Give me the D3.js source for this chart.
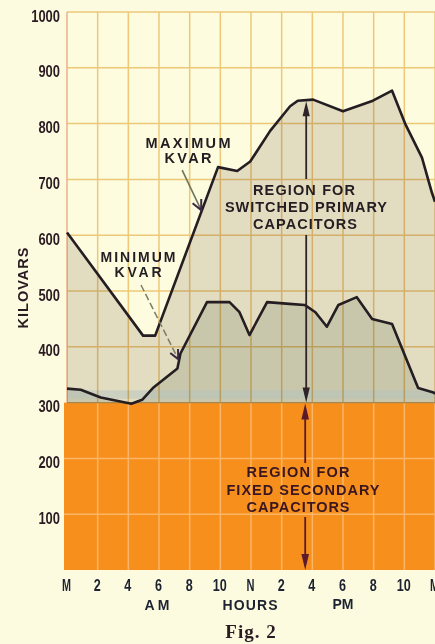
<!DOCTYPE html>
<html>
<head>
<meta charset="utf-8">
<script src="https://cdn.jsdelivr.net/npm/d3@7"></script>
<style>
  html, body { margin: 0; padding: 0; background: #fcfbe0; }
  svg { display: block; }
</style>
</head>
<body>
<svg id="chart" width="435" height="644"></svg>
<script>
// Hour ticks across one day (midnight to midnight)
const hourTicks = [0, 2, 4, 6, 8, 10, 12, 14, 16, 18, 20, 22, 24];
const hourLabels = ["M", "2", "4", "6", "8", "10", "N", "2", "4", "6", "8", "10", "M"];
const kvarTicks = [100, 200, 300, 400, 500, 600, 700, 800, 900, 1000];

// Level covered by fixed secondary capacitors
const fixedLevel = 300;

// Maximum daily reactive demand (kilovars) by hour
const maxHours = [0, 4.96, 5.75, 9.85, 11.1, 11.95, 13.25, 14.55, 15.05, 16.05, 18.0, 19.95, 21.2, 22.05, 23.15, 23.8, 24];
const maxKvar  = [605, 420, 420, 722, 715, 732, 787, 831, 841, 843, 822, 841, 859, 800, 739, 676, 660];

// Minimum daily reactive demand (kilovars) by hour
const minHours = [0, 0.9, 2.2, 4.2, 4.9, 5.6, 7.2, 7.4, 9.13, 10.6, 11.25, 11.9, 13.05, 14.5, 15.5, 16.2, 16.95, 17.7, 18.9, 19.9, 21.2, 22.9, 23.9, 24];
const minKvar  = [325, 323, 309, 298, 305, 326, 361, 388, 480, 480, 462, 421, 480, 477, 475, 462, 436, 475, 489, 450, 441, 326, 318, 316];

const svg = d3.select("#chart");
const x = d3.scaleLinear().domain([0, 24]).range([67, 435]);
const y = d3.scaleLinear().domain([0, 1000]).range([570, 12]);

const maxPts = maxHours.map((h, i) => ({ h, v: maxKvar[i] }));
const minPts = minHours.map((h, i) => ({ h, v: minKvar[i] }));

const ink = "#241d22";
const boldFont = "'Liberation Sans', Arial, sans-serif";

// Plot background
svg.append("rect")
  .attr("x", x(0)).attr("y", y(1000))
  .attr("width", x(24) - x(0)).attr("height", y(0) - y(1000))
  .attr("fill", "#fdfcdf");

// Switched-capacitor region (up to the maximum curve) and base load under the minimum
const areaFromFixed = d3.area()
  .x(d => x(d.h))
  .y0(y(fixedLevel))
  .y1(d => y(d.v));

svg.append("path").attr("d", areaFromFixed(maxPts)).attr("fill", "#e2dcc1");
svg.append("path").attr("d", areaFromFixed(minPts)).attr("fill", "#c9c7ab");

// Faint bluish band just above the fixed block
svg.append("rect")
  .attr("x", x(0)).attr("width", x(24) - x(0))
  .attr("y", y(322)).attr("height", y(307) - y(322))
  .attr("fill", "#b6c4bf").attr("opacity", 0.5);

// Fixed secondary capacitor block
svg.append("rect")
  .attr("x", x(0) - 3).attr("y", y(fixedLevel))
  .attr("width", x(24) - x(0) + 3).attr("height", y(0) - y(fixedLevel))
  .attr("fill", "#f78f1c");

// Grid above the fixed block
const gridUpper = svg.append("g").style("mix-blend-mode", "multiply");
gridUpper.selectAll("line.h")
  .data(kvarTicks.filter(v => v > fixedLevel))
  .join("line")
  .attr("x1", x(0)).attr("x2", x(24))
  .attr("y1", d => y(d)).attr("y2", d => y(d))
  .attr("stroke", "#efcb8a").attr("stroke-width", 1.5);
gridUpper.selectAll("line.v")
  .data(hourTicks)
  .join("line")
  .attr("x1", d => x(d)).attr("x2", d => x(d))
  .attr("y1", y(1000)).attr("y2", y(fixedLevel))
  .attr("stroke", d => d === 0 ? "#eeb39a" : "#efcb8a")
  .attr("stroke-width", 1.5);

// Grid inside the fixed block
const gridLower = svg.append("g");
gridLower.selectAll("line.h")
  .data(kvarTicks.filter(v => v < fixedLevel))
  .join("line")
  .attr("x1", x(0) - 3).attr("x2", x(24))
  .attr("y1", d => y(d)).attr("y2", d => y(d))
  .attr("stroke", "#fbb567").attr("stroke-width", 1.5);
gridLower.selectAll("line.v")
  .data(hourTicks.filter(h => h > 0))
  .join("line")
  .attr("x1", d => x(d)).attr("x2", d => x(d))
  .attr("y1", y(fixedLevel)).attr("y2", y(0))
  .attr("stroke", "#fbb567").attr("stroke-width", 1.5);

// Edge of the fixed block
svg.append("line")
  .attr("x1", x(0)).attr("x2", x(24))
  .attr("y1", y(fixedLevel)).attr("y2", y(fixedLevel))
  .attr("stroke", "#a9874c").attr("stroke-width", 1.3);

// Demand curves
const line = d3.line().x(d => x(d.h)).y(d => y(d.v));
[maxPts, minPts].forEach(pts => {
  svg.append("path")
    .attr("d", line(pts))
    .attr("fill", "none")
    .attr("stroke", ink)
    .attr("stroke-width", 2.6)
    .attr("stroke-linejoin", "round");
});

// Axis tick labels (condensed figures)
const yAxis = d3.axisLeft(y).tickValues(kvarTicks).tickFormat(d3.format("d"))
  .tickSize(0).tickPadding(0);
const gy = svg.append("g").attr("transform", "translate(60,4)").call(yAxis);
gy.select(".domain").remove();
gy.selectAll("text")
  .attr("fill", "#2a1b22")
  .attr("textLength", function () { return this.textContent.length * 7.2; })
  .attr("lengthAdjust", "spacingAndGlyphs")
  .style("font-family", boldFont)
  .style("font-weight", "bold")
  .style("font-size", "16px");

const xAxis = d3.axisBottom(x).tickValues(hourTicks)
  .tickFormat((d, i) => hourLabels[i]).tickSize(0).tickPadding(0);
const gx = svg.append("g").attr("transform", "translate(-1,580)").call(xAxis);
gx.select(".domain").remove();
gx.selectAll("text")
  .attr("fill", "#1c2230")
  .attr("textLength", function () {
    const t = this.textContent;
    return t === "M" ? 9 : t === "N" ? 8 : t.length * 7;
  })
  .attr("lengthAdjust", "spacingAndGlyphs")
  .style("font-family", boldFont)
  .style("font-weight", "bold")
  .style("font-size", "16px");

// Text helper
function label(txt, cx, by, width, opts = {}) {
  return svg.append("text")
    .attr("x", cx).attr("y", by)
    .attr("text-anchor", "middle")
    .attr("fill", opts.fill || ink)
    .attr("textLength", width)
    .attr("lengthAdjust", "spacing")
    .style("font-family", opts.font || boldFont)
    .style("font-weight", "bold")
    .style("font-size", (opts.size || 14.5) + "px")
    .text(txt);
}

label("AM", 157, 610, 25, { size: 14, fill: "#1c2230" });
label("HOURS", 250, 610, 55, { size: 14, fill: "#1c2230" });
label("PM", 343, 609, 21, { size: 14, fill: "#1c2230" });

svg.append("text")
  .attr("transform", "translate(28,288) rotate(-90)")
  .attr("text-anchor", "middle")
  .attr("fill", "#2a1b22")
  .attr("textLength", 81).attr("lengthAdjust", "spacing")
  .style("font-family", boldFont).style("font-weight", "bold").style("font-size", "14.5px")
  .text("KILOVARS");

svg.append("text")
  .attr("x", 251).attr("y", 638)
  .attr("text-anchor", "middle")
  .attr("fill", "#2a1b22")
  .style("font-family", "'Liberation Serif', 'Times New Roman', serif")
  .style("font-weight", "bold").style("font-size", "19px")
  .style("letter-spacing", "1px")
  .text("Fig. 2");

// Region labels
label("REGION FOR", 304, 195, 102);
label("SWITCHED PRIMARY", 306, 212, 162);
label("CAPACITORS", 305, 229, 104);

label("REGION FOR", 298, 477, 103, { fill: "#3a1620" });
label("FIXED SECONDARY", 303, 495, 153, { fill: "#3a1620" });
label("CAPACITORS", 298, 512, 103, { fill: "#3a1620" });

// Curve labels
label("MAXIMUM", 188, 148, 85, { size: 14.5 });
label("KVAR", 188, 163, 47, { size: 14.5 });
label("MINIMUM", 138, 262, 75, { size: 14 });
label("KVAR", 138, 277, 47, { size: 14 });

// Arrow helpers
function head(tx, ty, angle, len, half, fill) {
  const a = angle * Math.PI / 180;
  const bx = tx - Math.cos(a) * len, by = ty - Math.sin(a) * len;
  const px = -Math.sin(a) * half, py = Math.cos(a) * half;
  svg.append("path")
    .attr("d", `M${tx},${ty}L${bx + px},${by + py}L${bx - px},${by - py}Z`)
    .attr("fill", fill);
}
function shaft(x1, y1, x2, y2, stroke, w, dash) {
  const l = svg.append("line")
    .attr("x1", x1).attr("y1", y1).attr("x2", x2).attr("y2", y2)
    .attr("stroke", stroke).attr("stroke-width", w);
  if (dash) l.attr("stroke-dasharray", dash);
}
function chevron(tx, ty, angle, len, spread, stroke) {
  const a = angle * Math.PI / 180;
  const pts = [-spread, spread].map(s => {
    const b = a + Math.PI + s;
    return [tx + Math.cos(b) * len, ty + Math.sin(b) * len];
  });
  svg.append("path")
    .attr("d", `M${pts[0][0]},${pts[0][1]}L${tx},${ty}L${pts[1][0]},${pts[1][1]}`)
    .attr("fill", "none").attr("stroke", stroke)
    .attr("stroke-width", 2).attr("stroke-linejoin", "miter");
}

// Pointer from "MAXIMUM KVAR" to the maximum curve
{
  const tx = x(8.75), ty = y(645);
  const sx = tx - 19, sy = ty - 40;
  shaft(sx, sy, tx, ty, "#6f7658", 1.6);
  const ang = Math.atan2(ty - sy, tx - sx) * 180 / Math.PI;
  chevron(tx, ty, ang, 11, 0.45, "#3b2a44");
}

// Dashed pointer from "MINIMUM KVAR" to the minimum curve
{
  const tx = x(7.25), ty = y(378);
  const sx = 141, sy = 285;
  shaft(sx, sy, tx, ty, "#7b7f6a", 1.5, "7,3");
  const ang = Math.atan2(ty - sy, tx - sx) * 180 / Math.PI;
  chevron(tx, ty, ang, 10, 0.45, "#3b2a44");
}

// Span arrow for the switched primary region
{
  const ax = x(15.6);
  const top = y(840), bot = y(fixedLevel);
  head(ax, top, -90, 15, 3.6, "#2e2428");
  shaft(ax, top + 10, ax, 179, "#2e2428", 1.8);
  shaft(ax, 235, ax, bot - 10, "#2e2428", 1.8);
  head(ax, bot, 90, 15, 3.6, "#2e2428");
}

// Span arrow for the fixed secondary region
{
  const ax = x(15.6) - 1;
  const top = y(fixedLevel) + 1, bot = y(0);
  head(ax, top, -90, 16, 3.8, "#5a1a2c");
  shaft(ax, top + 10, ax, 463, "#5a1a2c", 1.8);
  shaft(ax, 517, ax, bot - 10, "#5a1a2c", 1.8);
  head(ax, bot, 90, 16, 3.8, "#5a1a2c");
}
</script>
</body>
</html>
